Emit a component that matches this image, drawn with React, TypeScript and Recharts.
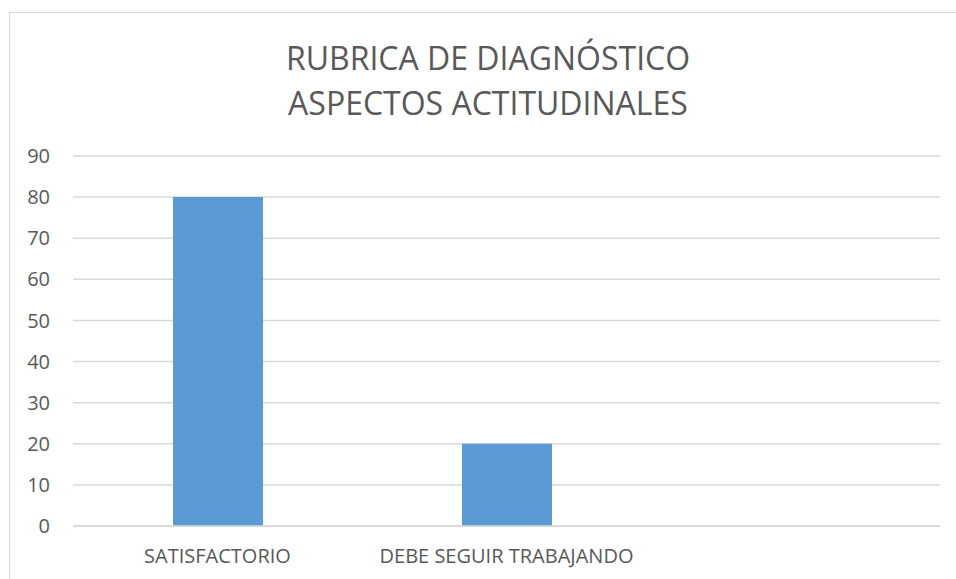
import React from "react";
import { BarChart, Bar, XAxis, YAxis, CartesianGrid } from "recharts";

const categories = ["SATISFACTORIO", "DEBE SEGUIR TRABAJANDO", ""];
const values = [80, 20, null];
const yTicks = [0, 10, 20, 30, 40, 50, 60, 70, 80, 90];
const titleLines = ["RUBRICA DE DIAGNÓSTICO", "ASPECTOS ACTITUDINALES"];

const data = categories.map((name, i) => ({ name, value: values[i] }));

const FONT = "'Open Sans', sans-serif";
const GRAY = "#595959";

export default function App() {
  return (
    <div
      style={{
        position: "absolute",
        left: 0,
        top: 0,
        width: 956,
        height: 579,
        overflow: "hidden",
        background: "#fff",
        fontFamily: FONT,
      }}
    >
      {/* chart frame, cropped on the right and bottom */}
      <div
        style={{
          position: "absolute",
          left: 9,
          top: 12,
          width: 960,
          height: 600,
          border: "1px solid #d9d9d9",
        }}
      />
      <div
        style={{
          position: "absolute",
          left: 0,
          top: 35,
          width: 976,
          textAlign: "center",
          color: GRAY,
          fontSize: 32,
          lineHeight: "45px",
        }}
      >
        {titleLines.map((t) => (
          <div key={t}>{t}</div>
        ))}
      </div>
      <div style={{ position: "absolute", left: 0, top: 0 }}>
        <BarChart
          width={956}
          height={579}
          data={data}
          margin={{ top: 156, right: 16, bottom: 0, left: 0 }}
        >
          <CartesianGrid vertical={false} stroke="#d9d9d9" strokeWidth={1.5} />
          <XAxis
            dataKey="name"
            height={53}
            tickLine={false}
            tickSize={0}
            tickMargin={23}
            axisLine={{ stroke: "#d9d9d9", strokeWidth: 1.5 }}
            tick={{ fill: GRAY, fontSize: 20, fontFamily: FONT }}
            interval={0}
          />
          <YAxis
            width={73}
            domain={[0, 90]}
            ticks={yTicks}
            axisLine={false}
            tickLine={false}
            tickSize={0}
            tickMargin={23}
            tick={{ fill: GRAY, fontSize: 20, fontFamily: FONT }}
          />
          <Bar dataKey="value" fill="#5b9bd5" barSize={90} isAnimationActive={false} />
        </BarChart>
      </div>
    </div>
  );
}
